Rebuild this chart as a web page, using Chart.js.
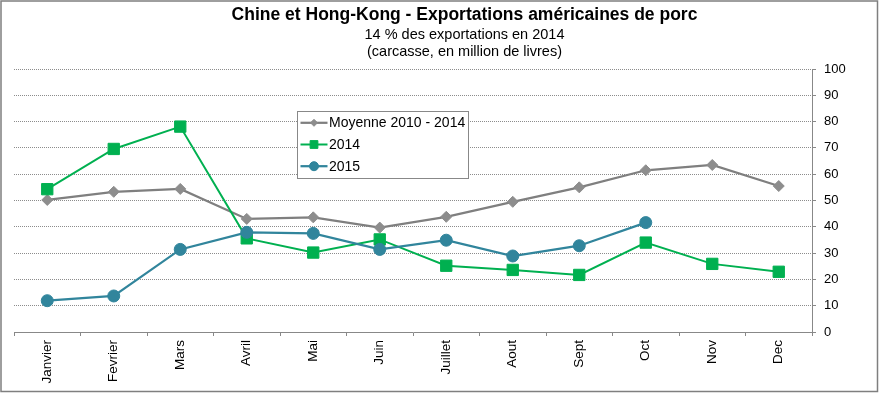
<!DOCTYPE html>
<html>
<head>
<meta charset="utf-8">
<title>Chine et Hong-Kong - Exportations américaines de porc</title>
<script src="https://cdn.jsdelivr.net/npm/chart.js@4.4.1/dist/chart.umd.min.js"></script>
<style>
  html, body { margin: 0; padding: 0; background: #fff; }
</style>
</head>
<body>
<canvas id="porc" width="879" height="393"></canvas>
<script>
const mois = ['Janvier', 'Fevrier', 'Mars', 'Avril', 'Mai', 'Juin', 'Juillet', 'Aout', 'Sept', 'Oct', 'Nov', 'Dec'];
const moyenne = [50.2, 53.3, 54.4, 43.0, 43.6, 39.7, 43.8, 49.5, 55.0, 61.5, 63.5, 55.5];
const an2014 = [54.3, 69.6, 78.1, 35.6, 30.2, 35.2, 25.2, 23.6, 21.7, 34.0, 25.9, 22.9];
const an2015 = [11.9, 13.7, 31.4, 37.9, 37.5, 31.4, 34.9, 28.9, 32.8, 41.6, null, null];
const titre = 'Chine et Hong-Kong - Exportations américaines de porc';
const sousTitre = ['14 % des exportations en 2014', '(carcasse, en million de livres)'];
const yMin = 0, yMax = 100, yPas = 10;

const police = '"Liberation Sans", Arial, sans-serif';

// fond blanc + cadre gris autour du graphique
const cadre = {
  id: 'cadre',
  beforeDraw(chart) {
    const ctx = chart.ctx;
    ctx.save();
    ctx.fillStyle = '#fff';
    ctx.fillRect(0, 0, chart.width, chart.height);
    ctx.restore();
  },
  afterDraw(chart) {
    const ctx = chart.ctx;
    ctx.save();
    ctx.strokeStyle = '#7f7f7f';
    ctx.lineWidth = 1.5;
    ctx.strokeRect(1, 1, 876.5, 390.5);
    ctx.restore();
  }
};

// le titre Excel n'est pas centre sur la largeur totale
const decaleTitre = {
  id: 'decaleTitre',
  afterLayout(chart) {
    chart.boxes.filter(b => b.position === 'top').forEach(b => {
      b.left += 18;
      b.right += 18;
    });
  }
};

// legende encadree posee dans la zone du graphique
const tailleLegende = { rectRot: 3.5, rect: 5.5, circle: 4.5 };
const legendeBox = {
  id: 'legendeBox',
  afterDraw(chart) {
    const ctx = chart.ctx;
    const x = 297.5, y = 111.5, w = 171, h = 67;
    ctx.save();
    ctx.fillStyle = '#fff';
    ctx.fillRect(x, y, w, h);
    ctx.strokeStyle = '#888';
    ctx.lineWidth = 1;
    ctx.strokeRect(x, y, w, h);
    ctx.font = '14px ' + police;
    ctx.textBaseline = 'middle';
    ctx.textAlign = 'left';
    chart.data.datasets.forEach((ds, i) => {
      const cy = y + 11.3 + i * 21.7;
      ctx.strokeStyle = ds.borderColor;
      ctx.lineWidth = ds.borderWidth;
      ctx.beginPath();
      ctx.moveTo(x + 3, cy);
      ctx.lineTo(x + 30, cy);
      ctx.stroke();
      ctx.fillStyle = ds.pointBackgroundColor;
      ctx.strokeStyle = ds.pointBorderColor;
      ctx.lineWidth = 1;
      Chart.helpers.drawPoint(ctx, { pointStyle: ds.pointStyle, radius: tailleLegende[ds.pointStyle], borderWidth: 1, rotation: 0 }, x + 16.5, cy);
      ctx.fillStyle = '#000';
      ctx.fillText(ds.label, x + 31.5, cy + 0.5);
    });
    ctx.restore();
  }
};

const ctx = document.getElementById('porc');
const graphique = new Chart(ctx, {
  type: 'line',
  data: {
    labels: mois,
    datasets: [
      {
        label: 'Moyenne 2010 - 2014',
        data: moyenne,
        borderColor: '#7f7f7f',
        backgroundColor: '#8d8d8d',
        borderWidth: 2.25,
        pointStyle: 'rectRot',
        pointRadius: 5.5,
        pointBorderWidth: 1,
        pointBackgroundColor: '#8d8d8d',
        pointBorderColor: '#8d8d8d',
        order: 3
      },
      {
        label: '2014',
        data: an2014,
        borderColor: '#00b050',
        backgroundColor: '#00b050',
        borderWidth: 2,
        pointStyle: 'rect',
        pointRadius: 8,
        pointBorderWidth: 1,
        pointBackgroundColor: '#00b050',
        pointBorderColor: '#00b050',
        order: 2
      },
      {
        label: '2015',
        data: an2015,
        borderColor: '#31859c',
        backgroundColor: '#31859c',
        borderWidth: 2.25,
        pointStyle: 'circle',
        pointRadius: 6,
        pointBorderWidth: 1,
        pointBackgroundColor: '#31859c',
        pointBorderColor: '#31859c',
        order: 1
      }
    ]
  },
  options: {
    responsive: false,
    animation: false,
    lineTension: 0,
    layout: {
      padding: { left: 14, right: 0, top: 0, bottom: 0 }
    },
    plugins: {
      legend: { display: false },
      tooltip: { enabled: false },
      title: {
        display: true,
        text: titre,
        color: '#000',
        font: { family: police, size: 17.5, weight: 'bold', lineHeight: 1.2 },
        padding: { top: 5, bottom: 0 }
      },
      subtitle: {
        display: true,
        text: sousTitre,
        color: '#000',
        font: { family: police, size: 14.5, lineHeight: 17 / 14.5 },
        padding: { top: 0, bottom: 9 }
      }
    },
    scales: {
      x: {
        offset: true,
        grid: {
          display: true,
          drawOnChartArea: false,
          offset: true,
          tickLength: 4,
          color: '#888'
        },
        border: { display: true, color: '#888', width: 1 },
        ticks: {
          autoSkip: false,
          minRotation: 90,
          maxRotation: 90,
          padding: 4,
          color: '#000',
          font: { family: police, size: 13.5 }
        },
        afterFit(scale) { scale.height = 61; }
      },
      y: {
        position: 'right',
        min: yMin,
        max: yMax,
        ticks: {
          stepSize: yPas,
          padding: 8,
          color: '#000',
          font: { family: police, size: 13 }
        },
        grid: {
          color: '#8c8c8c',
          tickLength: 4,
          tickColor: '#888'
        },
        border: { display: true, color: '#888', width: 1, dash: [1, 1] },
        afterFit(scale) { scale.width = 67; }
      }
    }
  },
  plugins: [cadre, decaleTitre, legendeBox]
});
</script>
</body>
</html>
